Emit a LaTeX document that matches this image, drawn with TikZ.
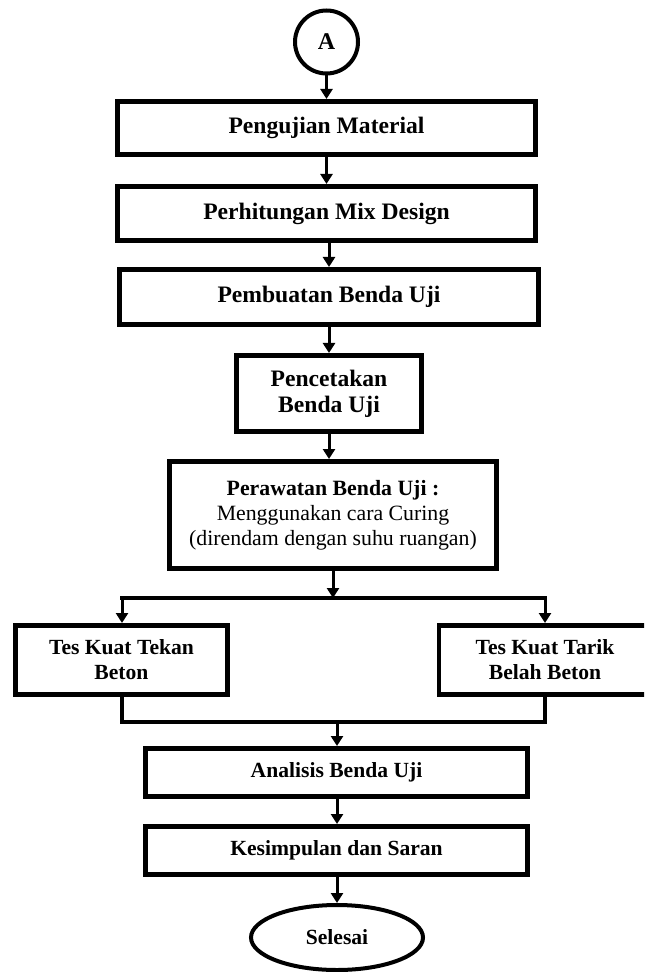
\documentclass[tikz,border=0pt]{standalone}
\usepackage{fontspec}
\setmainfont{Liberation Serif}
\usetikzlibrary{arrows.meta,shapes.geometric}
\begin{document}
\begin{tikzpicture}[x=0.5pt,y=-0.5pt,
  box/.style={draw=black, line width=2.3pt, rectangle, inner sep=0pt, align=center, text=black},
  bigtxt/.style={font=\bfseries\fontsize{11.8}{13}\selectfont},
  smalltxt/.style={font=\bfseries\fontsize{10.8}{12.5}\selectfont},
  arr/.style={line width=1.5pt, -{Triangle[width=6pt,length=5pt]}},
  conn/.style={line width=2pt},
]
\clip (0,0) rectangle (644,972);
\fill[white] (0,0) rectangle (644,972);

\node[circle, draw=black, line width=2pt, minimum size=31.5pt, inner sep=0pt,
      font=\bfseries\fontsize{12}{14}\selectfont] (a) at (326.5,42) {A};

\node[box, bigtxt, minimum width=209.2pt, minimum height=26.7pt] (b1) at (326.5,128) {Pengujian Material};
\node[box, bigtxt, minimum width=209.2pt, minimum height=27.2pt] (b2) at (326.5,213.5) {Perhitungan Mix Design};
\node[box, bigtxt, minimum width=209.7pt, minimum height=27.7pt] (b3) at (329,297) {Pembuatan Benda Uji};
\node[box, bigtxt, minimum width=92.7pt, minimum height=38.2pt] (b4) at (329,393.5) {Pencetakan\\Benda Uji};
\node[box, minimum width=163.7pt, minimum height=53.7pt, font=\fontsize{10.9}{12.5}\selectfont] (b5) at (333,515)
  {\textbf{Perawatan Benda Uji :}\\Menggunakan cara Curing\\(direndam dengan suhu ruangan)};

\node[box, smalltxt, minimum width=106.2pt, minimum height=34.7pt] (tekan) at (121.5,660) {Tes Kuat Tekan\\Beton};
\node[box, smalltxt, minimum width=106.2pt, minimum height=34.7pt] (tarik) at (545,660) {Tes Kuat Tarik\\Belah Beton};

\node[box, smalltxt, minimum width=191.2pt, minimum height=24.2pt] (ana) at (336.5,772.5) {Analisis Benda Uji};
\node[box, smalltxt, minimum width=191.2pt, minimum height=24.2pt] (kes) at (336.5,850.5) {Kesimpulan dan Saran};
\node[ellipse, draw=black, line width=2pt, minimum width=86pt, minimum height=32.5pt, inner sep=0pt,
      smalltxt] (sel) at (337,937.5) {Selesai};

\coordinate (brM) at (333,598);
\coordinate (brL) at (122,598);
\coordinate (brR) at (545,598);
\coordinate (mg) at (337,722);

\draw[arr] (a) -- (b1);
\draw[arr] (b1.south) -- (b1.south |- b2.north);
\draw[arr] (b2.south -| b3.north) -- (b3.north);
\draw[arr] (b3) -- (b4);
\draw[arr] (b4.south) -- (b4.south |- b5.north);
\draw[arr] (b5.south) -- (brM);
\draw[conn, line cap=rect] (brL) -- (brR);
\draw[arr] (brL) -- (brL |- tekan.north);
\draw[arr] (brR) -- (brR |- tarik.north);
\draw[conn] (tekan.south) |- (mg) -| (tarik.south);
\draw[arr] (mg) -- (mg |- ana.north);
\draw[arr] (ana.south -| mg) -- (mg |- kes.north);
\draw[arr] (kes.south -| mg) -- (sel.north);
\end{tikzpicture}
\end{document}
